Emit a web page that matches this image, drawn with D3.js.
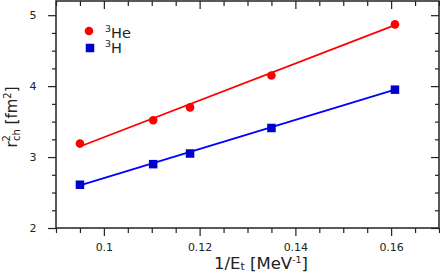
<!DOCTYPE html>
<html><head><meta charset="utf-8">
<script src="https://cdn.jsdelivr.net/npm/d3@7"></script>
<style>body{margin:0;background:#fff}svg{display:block}text{font-family:"DejaVu Sans",sans-serif;fill:#222}</style>
</head><body>
<svg id="c" width="440" height="273"></svg>
<script>
const xHe = [0.095, 0.1103, 0.118, 0.135, 0.1608];
const yHe = [3.19, 3.52, 3.70, 4.15, 4.87];
const xH  = [0.095, 0.1103, 0.118, 0.135, 0.1608];
const yH  = [2.61, 2.90, 3.05, 3.41, 3.95];
const fitX  = [0.095, 0.1608];
const fitHe = [3.15, 4.86];
const fitH  = [2.60, 3.95];
const xMajor = [0.1, 0.12, 0.14, 0.16];
const xMinor = [0.09,0.095,0.105,0.11,0.115,0.125,0.13,0.135,0.145,0.15,0.155,0.165,0.17];
const yMajor = [2, 3, 4, 5];
const yMinor = [2.25,2.5,2.75,3.25,3.5,3.75,4.25,4.5,4.75];

const svg = d3.select("#c");
const L=56,R=439,T=1,B=228;
const x = d3.scaleLinear().domain([0.09,0.17]).range([L,R]);
const y = d3.scaleLinear().domain([2,5.2]).range([B,T]);

function ax(gen, tr, vals, size, fmt){
  const g = svg.append("g").attr("transform", tr)
    .call(gen.tickValues(vals).tickSizeInner(size).tickSizeOuter(0).tickFormat(fmt));
  g.select(".domain").remove();
  g.selectAll("line").attr("stroke","#222").attr("stroke-width",1.2);
  return g;
}
const none = () => "";
// bottom
ax(d3.axisBottom(x), `translate(0,${B})`, xMinor, 5, none);
const gb = ax(d3.axisBottom(x), `translate(0,${B})`, xMajor, 8, d => d===0.1?"0.1":d3.format(".2f")(d));
gb.selectAll("text").attr("font-size",11).attr("fill","#222").attr("dy","1.1em").style("font-family","DejaVu Sans");
// top (inward)
ax(d3.axisTop(x), `translate(0,${T})`, xMinor, -5, none);
ax(d3.axisTop(x), `translate(0,${T})`, xMajor, -8, none);
// left
ax(d3.axisLeft(y), `translate(${L},0)`, yMinor, 4, none);
const gl = ax(d3.axisLeft(y), `translate(${L},0)`, yMajor, 8, d3.format("d"));
gl.selectAll("text").attr("font-size",11).attr("fill","#222").attr("dx",-8.5).style("font-family","DejaVu Sans");
// right (inward)
ax(d3.axisRight(y), `translate(${R},0)`, yMinor, -4, none);
ax(d3.axisRight(y), `translate(${R},0)`, yMajor, -8, none);

// frame
svg.append("rect").attr("x",L).attr("y",T).attr("width",R-L).attr("height",B-T)
  .attr("fill","none").attr("stroke","#222").attr("stroke-width",1.5);

const line = d3.line().x(d=>x(d[0])).y(d=>y(d[1]));
svg.append("path").datum(fitX.map((v,i)=>[v,fitHe[i]])).attr("d",line)
  .attr("fill","none").attr("stroke","#ff0000").attr("stroke-width",1.7);
svg.append("path").datum(fitX.map((v,i)=>[v,fitH[i]])).attr("d",line)
  .attr("fill","none").attr("stroke","#0000ff").attr("stroke-width",1.7);

svg.append("g").selectAll("circle").data(xHe.map((v,i)=>[v,yHe[i]])).join("circle")
  .attr("cx",d=>x(d[0])).attr("cy",d=>y(d[1])).attr("r",4.3).attr("fill","#ff0000");
const s=8.5;
svg.append("g").selectAll("rect").data(xH.map((v,i)=>[v,yH[i]])).join("rect")
  .attr("x",d=>x(d[0])-s/2).attr("y",d=>y(d[1])-s/2).attr("width",s).attr("height",s).attr("fill","#0000cc");

// legend
svg.append("circle").attr("cx",89).attr("cy",31).attr("r",4.3).attr("fill","#ff0000");
svg.append("rect").attr("x",90-s/2).attr("y",48-s/2).attr("width",s).attr("height",s).attr("fill","#0000cc");
function sup(xx, yy, supTxt, rest, fs){
  const el = svg.append("text").attr("x",xx).attr("y",yy).attr("font-size",fs);
  el.append("tspan").text(supTxt).attr("font-size",fs*0.65).attr("dy",-fs*0.4);
  el.append("tspan").text(rest).attr("dy",fs*0.4);
  return el;
}
sup(105,37.5,"3","He",14.5);
sup(105,53,"3","H",14.5);

// y label
const yl = svg.append("text").attr("transform","translate(17,117) rotate(-90)")
  .attr("text-anchor","middle").attr("font-size",15);
yl.append("tspan").text("r");
yl.append("tspan").text("2").attr("font-size",10).attr("dy",-7);
yl.append("tspan").text("ch").attr("font-size",10).attr("dx",-6).attr("dy",10);
yl.append("tspan").text(" [fm").attr("dy",-3);
yl.append("tspan").text("2").attr("font-size",10).attr("dy",-6);
yl.append("tspan").text("]").attr("dy",6);

// x label
const xl = svg.append("text").attr("x",261).attr("y",269).attr("text-anchor","middle").attr("font-size",16.5);
xl.append("tspan").text("1/E");
xl.append("tspan").text("t").attr("font-size",11).attr("dy",1);
xl.append("tspan").text(" [MeV").attr("dy",-1);
xl.append("tspan").text("-1").attr("font-size",9.5).attr("dy",-6);
xl.append("tspan").text("]").attr("dy",6);
</script>
</body></html>
